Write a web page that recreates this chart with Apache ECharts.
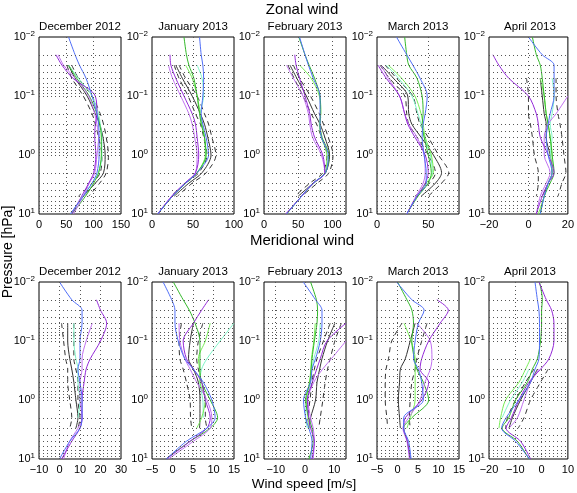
<!DOCTYPE html>
<html>
<head>
<meta charset="utf-8">
<script src="https://cdn.jsdelivr.net/npm/echarts@6/dist/echarts.min.js"></script>
<style>html,body{margin:0;padding:0;background:#fff}#c{width:577px;height:493px}</style>
</head>
<body>
<div id="c"></div>
<script>
// pressure levels [hPa]
const levels = [0.01, 0.02, 0.03, 0.05, 0.1, 0.2, 0.3, 0.5, 1, 2, 3, 5, 10];
const months = ['December 2012', 'January 2013', 'February 2013', 'March 2013', 'April 2013'];
const rowTitles = ['Zonal wind', 'Meridional wind'];

// x-axis ranges and tick labels
const zonalRange = [[0, 150], [0, 100], [0, 120], [0, 80], [-20, 20]];
const zonalStep = [50, 50, 10, 10, 20];
const zonalTicks = [[0, 50, 100, 150], [0, 50, 100], [0, 50, 100], [0, 50], [-20, 0, 20]];
const meridRange = [[-10, 30], [-5, 15], [-14, 14], [-5, 15], [-20, 10]];
const meridStep = [10, 5, 2, 5, 10];
const meridTicks = [[-10, 0, 10, 20, 30], [-5, 0, 5, 10, 15], [-10, 0, 10], [-5, 0, 5, 10, 15], [-20, -10, 0, 10]];
const yTicks = [0.01, 0.1, 1, 10];

// Zonal wind profiles [m/s] at the pressure levels
const zonalDec = {
  blue:   [54, 66, 74, 86, 97, 106, 109, 110, 110, 106, 97, 81, 57],
  green:  [null, null, 54, 69, 92, 106, 111, 114, 114, 109, 100, 85, 60],
  lime:   [null, null, null, null, null, null, null, null, null, null, null, null, null],
  aqua:   [null, null, 54, 72, 97, 109, 112, 115, 115, 109, 97, 80, 58],
  purple: [null, 31, 42, 62, 103, 106, 103, 102, 104, 100, 91, 78, 60],
  violet: [null, 35, 45, 66, 91, 102, 106, 109, 106, 102, 92, 81, 63],
  black:  [null, null, 54, 66, 88, 103, 111, 117, 121, 118, 103, 81, null],
  dashL:  [null, null, 51, 60, 81, 97, 103, 109, 115, 112, 97, 72, null],
  dashR:  [null, null, 60, 72, 97, 112, 118, 123, 127, 123, 111, 91, null]
};
const zonalJan = {
  blue:   [58, 60, 62, 63, 62, 60, 62, 66, 69, 55, 41, 25, 7],
  green:  [39, 42, 45, 51, 55, 58, 60, 64, 66, 55, 41, 25, 7],
  lime:   [null, null, 41, 49, 55, 59, 61, 64, 65, 55, 41, 25, 7],
  aqua:   [null, null, 55, 61, 63, 59, 61, 64, 66, 55, 41, 25, 7],
  purple: [null, 22, 23, 29, 39, 49, 53, 55, 57, 53, 40, 24, 7],
  violet: [null, null, 20, 25, 35, 45, 49, 52, 55, 53, 40, 24, 7],
  black:  [null, null, 29, 37, 49, 59, 64, 68, 72, 61, 45, 27, null],
  dashL:  [null, null, 27, 33, 44, 53, 59, 63, 67, 57, 41, 23, null],
  dashR:  [null, null, 33, 41, 55, 64, 69, 73, 78, 66, 49, 31, null]
};
const zonalFeb = {
  blue:   [52, 60, 65, 72, 82, 82, 82, 84, 94, 90, 72, 55, 33],
  green:  [51, 60, 66, 74, 82, 83, 82, 85, 95, 90, 73, 55, 33],
  lime:   [null, null, 52, 69, 81, 83, 81, 84, 92, 89, 72, 55, 33],
  aqua:   [null, null, null, null, null, null, null, null, null, null, null, null, null],
  purple: [null, 45, 47, 52, 60, 67, 69, 74, 86, 89, 72, 55, 32],
  violet: [null, null, 33, 43, 57, 65, 67, 71, 84, 89, 72, 55, 32],
  black:  [null, null, 38, 48, 62, 74, 82, 89, 96, 90, 72, 50, null],
  dashL:  [null, null, 35, 44, 57, 69, 77, 84, 92, 86, 67, 45, null],
  dashR:  [null, null, 43, 52, 68, 81, 87, 94, 101, 95, 78, 55, null]
};
const zonalMar = {
  blue:   [19, 29, 35, 42, 49, 47, 45, 44, 46, 48, 48, 39, 29],
  green:  [27, 29, 31, 39, 44, 45, 44, 46, 50, 53, 50, 40, 29],
  lime:   [null, null, 11, 24, 37, 43, 45, 47, 53, 55, 48, 39, 29],
  aqua:   [null, null, 9, 21, 34, 40, 43, 46, 52, 54, 48, 39, 29],
  purple: [null, null, 1, 9, 22, 27, 30, 37, 47, 50, 47, 39, 29],
  violet: [null, null, 4, 11, 22, 27, 31, 39, 46, 47, 45, 38, 29],
  black:  [null, null, 4, 16, 30, 31, 34, 43, 55, 63, 57, 43, null],
  dashL:  [null, null, 3, 12, 27, 29, 31, 39, 50, 57, 51, 37, null],
  dashR:  [null, null, 8, 19, 35, 39, 42, 50, 60, 70, 63, 50, null]
};
const zonalApr = {
  blue:   [0, 7, 13, 13, 13, 11, 10, 9, 10, 12, 10, 8, 6],
  green:  [2, 4, 6, 7, 8, 9, 10, 11, 12, 13, 11, 8, 6],
  lime:   [null, null, null, 6, 8, 9, 10, 11, 12, 12, 10, 8, 5],
  aqua:   [null, null, null, 12, 13, 12, 11, 12, 11, 12, 10, 8, 6],
  purple: [null, -18, -15, -10, 0, 4, 5, 6, 10, 13, 10, 7, 4],
  violet: [null, null, null, null, 20, 14, 10, 8, 8, 11, 9, 6, 4],
  black:  [null, null, null, 6, 7, 8, 9, 9, 11, 12, 10, 7, null],
  dashL:  [null, null, null, -1, 0, 0, 1, 2, 3, 5, 5, 4, null],
  dashR:  [null, null, null, 14, 14, 15, 16, 17, 18, 19, 17, 15, null]
};

// Meridional wind profiles [m/s]
const meridDec = {
  blue:   [0, 6, 11, 11, 10, 10, 9, 10, 11, 11, 10, 5, 0],
  green:  [null, null, null, null, null, null, null, null, null, null, null, null, null],
  lime:   [null, null, null, null, null, null, null, null, null, null, null, null, null],
  aqua:   [null, null, null, 7, 7, 8, 9, 9, 10, 9, null, null, null],
  purple: [null, 18, 20, 23, 20, 15, 13, 12, 11, 11, 10, 6, 1],
  violet: [null, null, null, 16, 13, 11, 11, 10, 10, 11, 9, 5, 2],
  black:  [null, null, null, 4, 4, 5, 6, 7, 8, 9, 8, null, null],
  dashL:  [null, null, null, 1, 2, 3, 4, 4, 5, 6, 5, null, null],
  dashR:  [null, null, null, 7, 7, 7, 8, 9, 9, 10, 9, null, null]
};
const meridJan = {
  blue:   [-2.3, -0.2, 0.6, 0.6, 1.4, 3, 5.1, 7.5, 9.6, 10.4, 8.4, 3.4, -1.5],
  green:  [0.2, 2.6, 4.1, 5.5, 6.7, 6.7, 6.7, 7.1, 9.2, 11, 9.2, 4.3, -1.6],
  lime:   [null, null, null, 9.2, 8, 6.3, 6.6, 6.7, 8, 7.1, 5.9, null, null],
  aqua:   [null, null, null, 15, 11.6, 8.4, 7.1, 6.7, 7.4, 7.5, null, null, null],
  purple: [null, 8.8, 7.1, 5.1, 2.6, 3.4, 5.1, 7.1, 8, 9.2, 8.4, 4.3, -1.5],
  violet: [null, null, null, 1.6, 1.8, 3, 4.3, 5.9, 8.4, 9.6, 9.2, 5.1, -1],
  black:  [null, null, null, 5.1, 4.3, 3.9, 5.1, 6.3, 6.7, 6.7, 6.6, null, null],
  dashL:  [null, null, null, 2.2, 1.6, 1.8, 2.6, 3.4, 4.3, 4.4, 4.7, null, null],
  dashR:  [null, null, null, 7.4, 6.3, 5.9, 6.3, 7.1, 8, 8, 8.4, null, null]
};
const meridFeb = {
  blue:   [-0.6, 3.6, 5.8, 5.8, 5.2, 3.6, 2.4, 1.9, -0.5, 0.2, 1.3, 2.4, 1.9],
  green:  [1.9, 3.9, 4.3, 4.1, 3.2, 2.4, 2.1, 1.7, 0.2, 1.3, 2.4, 2.8, 1.3],
  lime:   [null, null, null, 3.5, 3, 2.2, 2, 1.5, 0.5, 1, 1.5, null, null],
  aqua:   [null, null, null, 5.2, 4.7, 3, 2.4, 1.9, 0.6, 0.2, 0.8, null, null],
  purple: [null, null, null, 14, 7.5, 5.2, 4, 2.5, 0.8, 1.3, 1.9, 3.2, 2.4],
  violet: [null, null, null, null, 14, 9, 6, 3, 1, 1.9, 2.8, 3.2, 2.8],
  black:  [null, null, null, 10.2, 7.7, 5.8, 5, 4.1, 3.6, 1.9, 1.3, null, null],
  dashL:  [null, null, null, 8.6, 6.3, 4.1, 3.2, 2.4, 1.7, 0.8, 0.2, null, null],
  dashR:  [null, null, null, 12.4, 10.2, 8.6, 7.7, 6.9, 6.1, 5.2, 4.7, null, null]
};
const meridMar = {
  blue:   [-0.2, 3.5, 6.5, 5.1, 4.3, 3.9, 5.1, 5.9, 6.3, 1.5, 1.5, 2.7, 3.3],
  green:  [0, 2.3, 3.5, 3.9, 3.5, 4.1, 4.7, 6.3, 7.6, 3.5, 1.5, 2.4, 3.1],
  lime:   [null, null, null, 1.6, 3.3, 4.3, 4.3, 4.3, 4.3, 3.1, 2.3, null, null],
  aqua:   [null, null, null, null, null, null, null, null, null, null, null, null, null],
  purple: [null, 9.6, 12.4, 10.4, 7.6, 5.9, 5.5, 7.6, 5.9, 1.9, 1.5, 2.4, 3.1],
  violet: [null, null, null, 4.7, 8, 8.4, 8, 6.7, 5.5, 2.7, 1.3, 2.3, 2.9],
  black:  [null, null, null, 4.3, 3.1, 1.9, 0.7, 0.5, 0.2, 0.5, 0.7, null, null],
  dashL:  [null, null, null, 1.1, -1.4, -2.2, -2.8, -3, -3, -2.6, -2.4, null, null],
  dashR:  [null, null, null, 7.2, 5.9, 4.7, 4.3, 3.5, 3.1, 2.9, 3.1, null, null]
};
const meridApr = {
  blue:   [-2.5, -1.6, -1, -0.8, -0.8, -1, -2.5, -4.2, -8.6, -13.5, -15.2, -9.9, -4.6],
  green:  [-0.8, 0.3, 0, 0, -0.4, -1.6, -3.5, -5.4, -9.9, -12.5, -15, -9.2, -4.8],
  lime:   [null, null, null, null, null, -4.2, -6.1, -8.6, -13.7, -15.6, -16.2, null, null],
  aqua:   [null, null, null, null, null, null, -4.8, -7.3, -11.8, -15, null, null, null],
  purple: [-1, 1.8, 3.8, 4.7, 4.7, 2.8, -0.4, -4.8, -8.6, -11.5, -13.5, -8, -4.2],
  violet: [null, null, null, null, null, null, -1, -4.2, -6.7, -9.2, -12.4, null, null],
  black:  [null, null, null, null, null, null, -1.6, -4.2, -8, -11.1, -12.4, null, null],
  dashL:  [null, null, null, null, null, null, -2.9, -6.1, -9.9, -13, -13.7, null, null],
  dashR:  [null, null, null, null, null, null, 2.5, -0.4, -4.2, -6.7, -8.9, null, null]
};

const zonalData = [zonalDec, zonalJan, zonalFeb, zonalMar, zonalApr];
const meridData = [meridDec, meridJan, meridFeb, meridMar, meridApr];

const FONT = '"Liberation Sans", Arial, Helvetica, sans-serif';
const styles = {
  dashL:  { color: '#333333', type: [5, 4] },
  dashR:  { color: '#333333', type: [5, 4] },
  black:  { color: '#333333', type: 'solid' },
  aqua:   { color: '#7ff5c8', type: 'solid' },
  lime:   { color: '#77ee55', type: 'solid' },
  green:  { color: '#33b82a', type: 'solid' },
  violet: { color: '#c070f0', type: 'solid' },
  purple: { color: '#9428d8', type: 'solid' },
  blue:   { color: '#4f6ef7', type: 'solid' }
};
const order = ['dashL', 'dashR', 'black', 'aqua', 'lime', 'green', 'violet', 'purple', 'blue'];

// layout
const lefts = [39, 152, 264, 377, 489];
const pw = 82, ph = 177;
const tops = [37, 282];

// horizontal dotted grid levels (1..9 x decade)
const gridLevels = [];
[0.01, 0.1, 1].forEach(d => { for (let k = 1; k <= 9; k++) { if (!(d === 0.01 && k === 1)) gridLevels.push(+(d * k).toPrecision(3)); } });

const grids = [], xAxes = [], yAxes = [], series = [], graphics = [];
const dotted = { color: '#555', width: 1, type: [1, 3] };

function fmtMinus(v) { return String(v).replace('-', '\u2212'); }

for (let r = 0; r < 2; r++) {
  const ranges = r === 0 ? zonalRange : meridRange;
  const steps = r === 0 ? zonalStep : meridStep;
  const ticks = r === 0 ? zonalTicks : meridTicks;
  const datas = r === 0 ? zonalData : meridData;
  for (let c = 0; c < 5; c++) {
    const gi = r * 5 + c;
    grids.push({ left: lefts[c], top: tops[r], width: pw, height: ph, show: true, borderColor: '#000', borderWidth: 1, backgroundColor: 'transparent' });
    const tk = ticks[c];
    xAxes.push({
      gridIndex: gi, type: 'value', min: ranges[c][0], max: ranges[c][1], interval: steps[c],
      axisLine: { show: false }, axisTick: { show: false }, splitLine: { show: false },
      axisLabel: { show: true, color: '#000', fontSize: 11, fontFamily: FONT, margin: 5,
        showMinLabel: true, showMaxLabel: true,
        formatter: v => tk.indexOf(v) >= 0 ? fmtMinus(v) : '' }
    });
    yAxes.push({
      gridIndex: gi, type: 'log', logBase: 10, min: 0.01, max: 10, inverse: true,
      axisLine: { show: false }, axisTick: { show: false }, splitLine: { show: false },
      axisLabel: { show: true, margin: 4,
        formatter: v => { const e = Math.round(Math.log10(v)); return '{b|10}{s|' + (e < 0 ? '\u2212' : '') + Math.abs(e) + '}'; },
        rich: { b: { fontSize: 11, color: '#000', fontFamily: FONT }, s: { fontSize: 8, color: '#000', fontFamily: FONT, padding: [0, 0, 7, 0] } } }
    });
    const d = datas[c];
    const vlines = tk.filter(t => t > ranges[c][0] && t < ranges[c][1]);
    order.forEach(name => {
      const arr = d[name];
      const pts = levels.map((p, i) => [arr[i], p]).filter(q => q[0] !== null);
      const s = {
        type: 'line', xAxisIndex: gi, yAxisIndex: gi, data: pts, symbol: 'none', showSymbol: false,
        smooth: 0.3, animation: false, silent: true,
        lineStyle: { color: styles[name].color, width: 1, type: styles[name].type },
        clip: true
      };
      if (name === 'dashL') {
        s.markLine = {
          silent: true, symbol: ['none', 'none'], animation: false, label: { show: false },
          lineStyle: dotted, emphasis: { disabled: true },
          data: gridLevels.map(v => ({ yAxis: v, lineStyle: dotted })).concat(vlines.map(t => ({ xAxis: t, lineStyle: dotted })))
        };
      }
      series.push(s);
    });
    graphics.push({ type: 'text', x: lefts[c] + pw / 2, y: tops[r] - 10,
      style: { text: months[c], fill: '#000', font: '11.5px ' + FONT, align: 'center', verticalAlign: 'middle' } });
  }
}

graphics.push({ type: 'text', x: 302, y: 10, style: { text: rowTitles[0], fill: '#000', font: '15px ' + FONT, align: 'center', verticalAlign: 'middle' } });
graphics.push({ type: 'text', x: 302, y: 241, style: { text: rowTitles[1], fill: '#000', font: '15px ' + FONT, align: 'center', verticalAlign: 'middle' } });
graphics.push({ type: 'text', x: 304, y: 484, style: { text: 'Wind speed [m/s]', fill: '#000', font: '13.5px ' + FONT, align: 'center', verticalAlign: 'middle' } });
graphics.push({ type: 'text', x: 8, y: 252, rotation: Math.PI / 2, style: { text: 'Pressure [hPa]', fill: '#000', font: '14px ' + FONT, align: 'center', verticalAlign: 'middle' } });

const chart = echarts.init(document.getElementById('c'), null, { renderer: 'canvas' });
chart.setOption({
  animation: false,
  backgroundColor: '#fff',
  grid: grids, xAxis: xAxes, yAxis: yAxes, series: series, graphic: graphics
});
</script>
</body>
</html>
